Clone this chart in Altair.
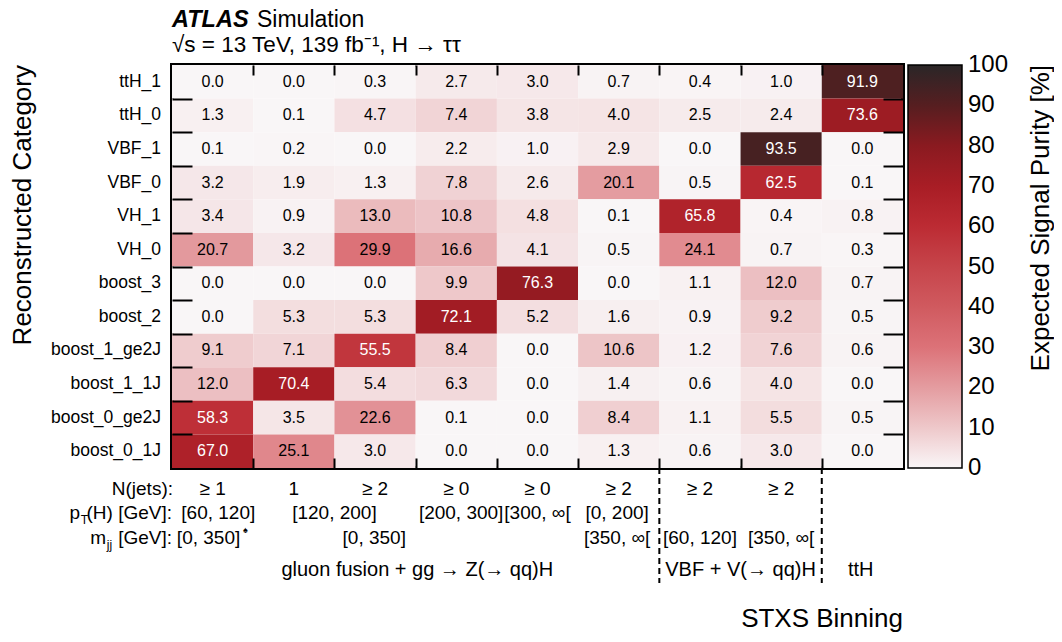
import altair as alt
import pandas as pd

# ---------------- data ----------------
categories = ["ttH_1", "ttH_0", "VBF_1", "VBF_0", "VH_1", "VH_0", "boost_3", "boost_2",
              "boost_1_ge2J", "boost_1_1J", "boost_0_ge2J", "boost_0_1J"]
stxs_bins = ["ggF_ge1J_pt60_120", "ggF_1J_pt120_200", "ggF_ge2J_pt120_200", "ggF_pt200_300",
             "ggF_pt300", "ggF_ge2J_mjj350_pt0_200", "VBF_ge2J_mjj60_120", "VBF_ge2J_mjj350", "ttH"]
purity = [
    [0.0, 0.0, 0.3, 2.7, 3.0, 0.7, 0.4, 1.0, 91.9],
    [1.3, 0.1, 4.7, 7.4, 3.8, 4.0, 2.5, 2.4, 73.6],
    [0.1, 0.2, 0.0, 2.2, 1.0, 2.9, 0.0, 93.5, 0.0],
    [3.2, 1.9, 1.3, 7.8, 2.6, 20.1, 0.5, 62.5, 0.1],
    [3.4, 0.9, 13.0, 10.8, 4.8, 0.1, 65.8, 0.4, 0.8],
    [20.7, 3.2, 29.9, 16.6, 4.1, 0.5, 24.1, 0.7, 0.3],
    [0.0, 0.0, 0.0, 9.9, 76.3, 0.0, 1.1, 12.0, 0.7],
    [0.0, 5.3, 5.3, 72.1, 5.2, 1.6, 0.9, 9.2, 0.5],
    [9.1, 7.1, 55.5, 8.4, 0.0, 10.6, 1.2, 7.6, 0.6],
    [12.0, 70.4, 5.4, 6.3, 0.0, 1.4, 0.6, 4.0, 0.0],
    [58.3, 3.5, 22.6, 0.1, 0.0, 8.4, 1.1, 5.5, 0.5],
    [67.0, 25.1, 3.0, 0.0, 0.0, 1.3, 0.6, 3.0, 0.0],
]

cbar_ticks = [0, 10, 20, 30, 40, 50, 60, 70, 80, 90, 100]
cbar_colors = ["#f9f6f7", "#eec8ca", "#e49ca0", "#dc7278", "#d05a5f", "#c6444a",
               "#bc2b33", "#a81d25", "#8a1a20", "#561e20", "#2a2627"]

njets_labels = ["≥ 1", "1", "≥ 2", "≥ 0", "≥ 0", "≥ 2", "≥ 2", "≥ 2"]
njets_at = [0.5, 1.5, 2.5, 3.5, 4.5, 5.5, 6.5, 7.5]
pt_labels = ["[60, 120]", "[120, 200]", "[200, 300]", "[300, ∞[", "[0, 200]"]
pt_at = [0.57, 2.0, 3.56, 4.5, 5.48]
mjj_labels = ["[0, 350]", "[0, 350]", "[350, ∞[", "[60, 120]", "[350, ∞["]
mjj_at = [0.45, 2.49, 5.48, 6.5, 7.5]
group_labels = ["gluon fusion + gg → Z(→ qq)H", "VBF + V(→ qq)H", "ttH"]
group_at = [3.02, 7.0, 8.48]
group_bounds = [6, 8]

# ---------------- layout / style ----------------
W, H = 731, 403
FONT = "Liberation Sans"
FS_ANN = 19
nrow, ncol = len(categories), len(stxs_bins)
CB_X = W + 5          # colour bar left edge, relative to plot
CB_W = 54

rows = []
for i, cat in enumerate(categories):
    r = nrow - 1 - i
    for j, b in enumerate(stxs_bins):
        rows.append(dict(cat=cat, stxs=b, c0=j, c1=j + 1, cx=j + 0.5,
                         r0=r, r1=r + 1, ry=r + 0.5, v=purity[i][j]))
df = pd.DataFrame(rows)
df_cat = pd.DataFrame({"name": categories, "ry": [nrow - 1 - i + 0.5 for i in range(nrow)]})

xs = alt.Scale(domain=[0, ncol], nice=False, zero=False)
ys = alt.Scale(domain=[0, nrow], nice=False, zero=False)


def inward_axis(orient, values, size):
    return alt.Axis(orient=orient, values=values, tickSize=size, offset=-size, domain=False,
                    labels=False, title=None, grid=False, ticks=True, tickColor="black",
                    tickWidth=2, zindex=3)


color_scale = alt.Scale(domain=cbar_ticks, range=cbar_colors, interpolate="rgb")
legend = alt.Legend(orient="none", legendX=CB_X, legendY=0, direction="vertical",
                    gradientLength=H, gradientThickness=CB_W, gradientStrokeColor="black",
                    gradientStrokeWidth=1.5, values=cbar_ticks, labelExpr="''",
                    labelOpacity=0, title=None, padding=0)

rect = alt.Chart(df).mark_rect().encode(
    x=alt.X("c0:Q", scale=xs, axis=inward_axis("bottom", list(range(1, ncol)), 10)),
    x2="c1:Q",
    y=alt.Y("r0:Q", scale=ys, axis=inward_axis("left", list(range(1, nrow)), 20)),
    y2="r1:Q",
    color=alt.Color("v:Q", scale=color_scale, legend=legend),
)

vals = alt.Chart(df).mark_text(font=FONT, fontSize=16, baseline="middle").encode(
    x=alt.X("cx:Q", scale=xs, axis=inward_axis("top", list(range(1, ncol)), 10)),
    y=alt.Y("ry:Q", scale=ys, axis=inward_axis("right", list(range(1, nrow)), 20)),
    text=alt.Text("v:Q", format=".1f"),
    color=alt.when(alt.datum.v > 50).then(alt.value("white")).otherwise(alt.value("black")),
)

cat_labels = alt.Chart(df_cat).mark_text(font=FONT, fontSize=17.5, align="right",
                                         baseline="middle", color="black").encode(
    x=alt.value(-11), y=alt.Y("ry:Q", scale=ys, axis=None), text="name:N")

df_cb = pd.DataFrame({"t": cbar_ticks})
cb_base = alt.Chart(df_cb).transform_calculate(yy=f"datum.t * {nrow} / 100")
cb_ticks = cb_base.transform_filter("datum.t > 0 && datum.t < 100").mark_rule(
    color="black", strokeWidth=2).encode(
    x=alt.value(CB_X + CB_W - 21), x2=alt.value(CB_X + CB_W),
    y=alt.Y("yy:Q", scale=ys, axis=None))
cb_labels = cb_base.mark_text(font=FONT, fontSize=24, align="left", baseline="middle",
                              color="black").encode(
    x=alt.value(CB_X + CB_W + 6), y=alt.Y("yy:Q", scale=ys, axis=None),
    text=alt.Text("t:Q", format="d"))

dashes = alt.Chart(pd.DataFrame({"b": group_bounds})).mark_rule(
    color="black", strokeWidth=2, strokeDash=[6, 4]).encode(
    x=alt.X("b:Q", scale=xs, axis=None), y=alt.value(H), y2=alt.value(H + 115))


def row_text(labels, at, ypix, size=FS_ANN):
    return alt.Chart(pd.DataFrame({"t": labels, "x": at})).mark_text(
        font=FONT, fontSize=size, baseline="middle", align="center", color="black").encode(
        x=alt.X("x:Q", scale=xs, axis=None), y=alt.value(ypix), text="t:N")


def fixed_text(text, xpix, ypix, size, align="left", **kw):
    return alt.Chart(pd.DataFrame({"t": [text]})).mark_text(
        font=FONT, fontSize=size, align=align, baseline="middle", color="black", **kw).encode(
        x=alt.value(xpix), y=alt.value(ypix), text="t:N")


y1, y2, y3, y4 = H + 21, H + 45, H + 70, H + 102
w_pt = 4.501 * FS_ANN     # width of "(H) [GeV]:"
w_mjj = 2.835 * FS_ANN    # width of "[GeV]:"

annots = [
    row_text(njets_labels, njets_at, y1),
    row_text(pt_labels, pt_at, y2),
    row_text(mjj_labels, mjj_at, y3),
    row_text(group_labels, group_at, y4, size=20),
    fixed_text("N(jets):", 1, y1, FS_ANN, align="right"),
    fixed_text("(H) [GeV]:", 0, y2, FS_ANN, align="right"),
    fixed_text("T", -w_pt + 1.5, y2 + 7, 12, align="right"),
    fixed_text("p", -w_pt - 6.5, y2, FS_ANN, align="right"),
    fixed_text("[GeV]:", 0, y3, FS_ANN, align="right"),
    fixed_text("jj", -w_mjj - 6, y3 + 7, 12, align="right"),
    fixed_text("m", -w_mjj - 12, y3, FS_ANN, align="right"),
    fixed_text("♠", 71, y3 - 8, 9),
    fixed_text("STXS Binning", W, H + 151, 26, align="right"),
    fixed_text("Reconstructed Category", -149, 0, 26, align="right", angle=270),
    fixed_text("Expected Signal Purity [%]", 869, 0, 26, align="right", angle=270),
    fixed_text("ATLAS", 0, -45, 23.5, fontStyle="italic", fontWeight="bold"),
    fixed_text("Simulation", 85, -45, 23),
    fixed_text("√s = 13 TeV, 139 fb⁻¹, H → ττ", 0, -20, 22.5),
]

chart = alt.layer(rect, vals, cat_labels, cb_ticks, cb_labels, dashes, *annots).resolve_axis(
    x="independent", y="independent"
).properties(
    width=W, height=H,
    autosize=alt.AutoSizeParams(type="none"),
    padding={"left": 164, "top": 57, "right": 151, "bottom": 166},
).configure(font=FONT).configure_view(stroke="black", strokeWidth=4)

chart.save("out.html", embed_options={"renderer": "svg", "actions": False})
